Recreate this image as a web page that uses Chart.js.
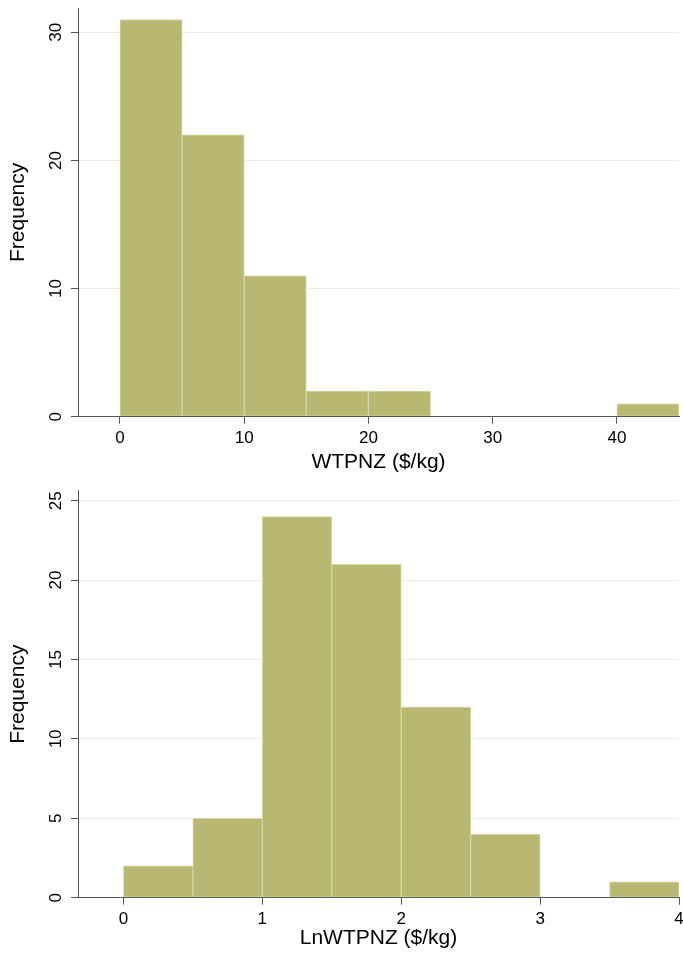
<!DOCTYPE html>
<html>
<head>
<meta charset="utf-8">
<script src="https://cdn.jsdelivr.net/npm/chart.js@4.4.1/dist/chart.umd.min.js"></script>
<style>
  html, body { margin: 0; padding: 0; background: #ffffff; }
  #wrap { position: relative; width: 683px; height: 958px; }
  canvas { position: absolute; left: 0; }
</style>
</head>
<body>
<div id="wrap">
  <canvas id="c1" width="683" height="479" style="top:0px"></canvas>
  <canvas id="c2" width="683" height="479" style="top:479px"></canvas>
</div>
<script>
// ---- Data ----
// Top histogram: WTPNZ ($/kg), bin width 5
const wtpBinMids = [2.5, 7.5, 12.5, 17.5, 22.5, 42.5];
const wtpFreq    = [31, 22, 11, 2, 2, 1];
const wtpXTicks  = [0, 10, 20, 30, 40];
const wtpYTicks  = [0, 10, 20, 30];

// Bottom histogram: LnWTPNZ ($/kg), bin width 0.5
const lnBinMids = [0.25, 0.75, 1.25, 1.75, 2.25, 2.75, 3.75];
const lnFreq    = [2, 5, 24, 21, 12, 4, 1];
const lnXTicks  = [0, 1, 2, 3, 4];
const lnYTicks  = [0, 5, 10, 15, 20, 25];

const xTitleTop = 'WTPNZ ($/kg)';
const xTitleBottom = 'LnWTPNZ ($/kg)';
const yTitle = 'Frequency';

// ---- Styles ----
const FILL = 'rgb(184,184,114)';
const EDGE = 'rgb(214,214,162)';
const AXIS = '#555555';
const GRID = '#e6eef0';
const FONT = 'Liberation Sans, Arial, sans-serif';

function makeChart(id, mids, freq, xTicks, yTicks, xmin, xmax, ymax, xTitle, padTop, xAxisH, xTitlePadB) {
  const pts = mids.map((m, i) => ({ x: m, y: freq[i] }));
  return new Chart(document.getElementById(id), {
    type: 'bar',
    data: {
      datasets: [{
        data: pts,
        backgroundColor: FILL,
        borderColor: EDGE,
        borderWidth: 1,
        borderSkipped: false,
        barPercentage: 1.0,
        categoryPercentage: 1.0
      }]
    },
    options: {
      responsive: false,
      devicePixelRatio: 1,
      animation: false,
      events: [],
      layout: { padding: { left: 0, right: 4, top: padTop, bottom: 0 } },
      plugins: { legend: { display: false }, tooltip: { enabled: false } },
      scales: {
        x: {
          type: 'linear',
          min: xmin, max: xmax,
          offset: false,
          afterBuildTicks: s => { s.ticks = xTicks.map(v => ({ value: v })); },
          afterFit: s => { s.height = xAxisH; s.paddingLeft = 0; s.paddingRight = 0; },
          grid: { display: true, offset: false, drawOnChartArea: false, drawTicks: true, tickLength: 7, tickColor: AXIS, lineWidth: 1 },
          border: { display: true, color: AXIS, width: 1, z: 1 },
          ticks: { color: '#000', font: { family: FONT, size: 17 }, padding: 4, maxRotation: 0, minRotation: 0 },
          title: { display: true, text: xTitle, color: '#000', font: { family: FONT, size: 21 }, padding: { top: 0, bottom: xTitlePadB } }
        },
        y: {
          type: 'linear',
          min: 0, max: ymax,
          afterBuildTicks: s => { s.ticks = yTicks.map(v => ({ value: v })); },
          afterFit: s => { s.width = 78; s.paddingTop = 0; s.paddingBottom = 0; },
          grid: { display: true, offset: false, drawOnChartArea: true, drawTicks: true, tickLength: 7, color: GRID, tickColor: AXIS, lineWidth: 1 },
          border: { display: true, color: AXIS, width: 1, z: 1 },
          ticks: { color: '#000', font: { family: FONT, size: 17 }, padding: 5, minRotation: 90, maxRotation: 90, crossAlign: 'center' },
          title: { display: true, text: yTitle, color: '#000', font: { family: FONT, size: 21 }, padding: { top: 6, bottom: 0 } }
        }
      }
    }
  });
}

makeChart('c1', wtpBinMids, wtpFreq, wtpXTicks, wtpYTicks, -3.38, 45, 31.9, xTitleTop, 8, 62.3, 4);
makeChart('c2', lnBinMids, lnFreq, lnXTicks, lnYTicks, -0.327, 4, 25.63, xTitleBottom, 11.7, 60.3, 7);
</script>
</body>
</html>
